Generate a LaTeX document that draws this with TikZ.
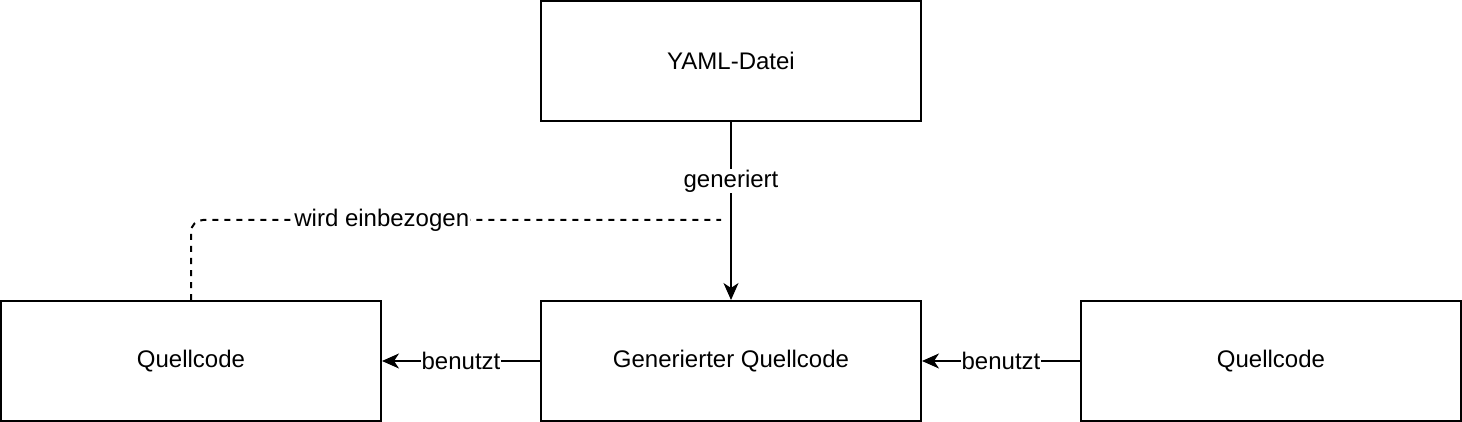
\documentclass[tikz,border=0pt]{standalone}
\usepackage{fontspec}
\setmainfont{Liberation Sans}
\usetikzlibrary{arrows.meta}
\begin{document}
\begin{tikzpicture}[x=1pt,y=-1pt,
  box/.style={draw,line width=2pt,minimum width=380pt,minimum height=120pt,inner sep=0pt,font=\fontsize{24}{28}\selectfont},
  lbl/.style={fill=white,inner sep=1pt,font=\fontsize{24}{28}\selectfont},
  conn/.style={line width=2pt,-{Stealth[length=17pt,width=15pt,inset=5pt]}}]
\useasboundingbox (0,0) rectangle (1462,422);
\node[box] (yaml) at (731,61) {YAML-Datei};
\node[box] (q1) at (191,361) {Quellcode};
\node[box] (gen) at (731,361) {Generierter Quellcode};
\node[box] (q2) at (1271,361) {Quellcode};
\coordinate (dend) at (721,220);
\draw[conn] (yaml.south) -- node[lbl,pos=0.333]{generiert} (gen.north);
\draw[line width=2pt,dash pattern=on 6pt off 6pt,rounded corners=12pt] (q1.north) |- node[lbl,pos=0.68]{wird einbezogen} (dend);
\draw[conn] (gen.west) -- node[lbl,pos=0.5]{benutzt} (q1.east);
\draw[conn] (q2.west) -- node[lbl,pos=0.5]{benutzt} (gen.east);
\end{tikzpicture}
\end{document}
